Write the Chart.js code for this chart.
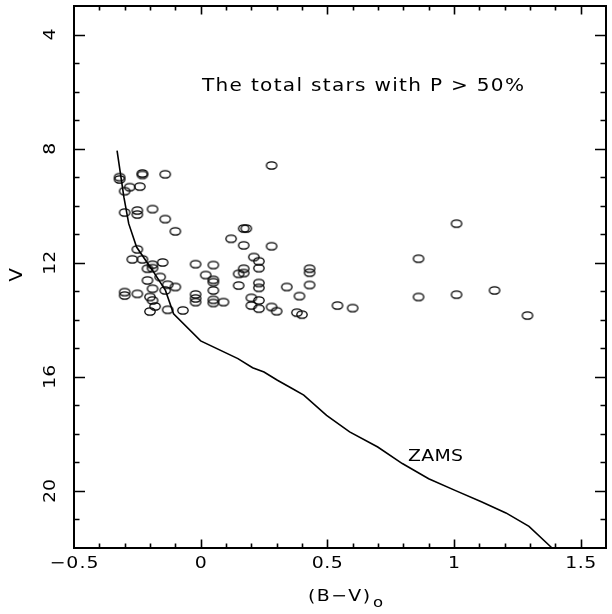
<!DOCTYPE html>
<html>
<head>
<meta charset="utf-8">
<script src="https://cdn.jsdelivr.net/npm/chart.js@4.4.1/dist/chart.umd.min.js"></script>
<style>
html,body{margin:0;padding:0;background:#fff;}
#wrap{width:612px;height:614px;}
</style>
</head>
<body>
<div id="wrap"><canvas id="c" width="612" height="614"></canvas></div>
<script>
// Stars with membership probability P > 50%
const starBV = [-0.32,-0.32,-0.23,-0.23,-0.14,-0.28,-0.30,-0.24,-0.30,-0.25,-0.25,-0.19,-0.14,-0.10,
  -0.25,-0.27,-0.23,-0.19,-0.19,-0.21,-0.15,-0.02,0.05,0.02,0.05,0.05,0.05,0.05,0.05,
  -0.21,-0.16,-0.19,-0.13,-0.10,-0.14,-0.30,-0.30,-0.25,-0.20,-0.19,-0.18,-0.20,-0.13,-0.07,
  -0.02,-0.02,-0.02,0.28,0.17,0.18,0.12,0.17,0.28,0.21,0.23,0.23,0.17,0.17,0.15,0.43,0.43,
  0.15,0.23,0.23,0.34,0.43,0.09,0.20,0.20,0.23,0.23,0.28,0.30,0.39,0.38,0.40,0.54,0.60,
  1.01,0.86,0.86,1.01,1.16,1.29];
const starV = [9.00,9.08,8.87,8.92,8.90,9.35,9.49,9.33,10.24,10.17,10.31,10.12,10.47,10.90,
  11.53,11.88,11.88,12.07,12.19,12.21,11.99,12.05,12.08,12.43,12.60,12.68,12.97,13.30,13.41,
  12.62,12.50,12.91,12.77,12.85,12.97,13.03,13.15,13.09,13.20,13.32,13.53,13.71,13.65,13.67,
  13.11,13.25,13.38,8.59,10.80,10.80,11.16,11.39,11.42,11.80,11.95,12.19,12.21,12.36,12.39,12.21,12.35,
  12.80,12.71,12.88,12.85,12.78,13.38,13.23,13.50,13.32,13.61,13.55,13.70,13.17,13.75,13.82,13.50,13.59,
  10.63,11.86,13.20,13.12,12.97,13.85];
// Zero-age main sequence
const zamsBV = [-0.33,-0.303,-0.284,-0.253,-0.19,-0.139,-0.107,0.0,0.147,0.205,0.25,0.303,0.361,
  0.407,0.497,0.588,0.699,0.796,0.90,1.004,1.108,1.205,1.296,1.387];
const zamsV = [8.07,9.70,10.63,11.45,12.27,12.97,13.79,14.74,15.36,15.68,15.83,16.12,16.41,
  16.64,17.35,17.93,18.46,19.04,19.57,19.98,20.38,20.77,21.24,22.0];
// Axes
const xMajorTicks = [-0.5, 0, 0.5, 1, 1.5];
const xTickLabels = ['\u22120.5', '0', '0.5', '1', '1.5'];
const yMajorTicks = [4, 8, 12, 16, 20];
const yTickLabels = ['4', '8', '12', '16', '20'];
const xRange = [-0.5, 1.6];
const yRange = [3, 22];
const titleText = 'The total stars with P > 50%';
const zamsLabel = 'ZAMS';

// ellipse marker
const mk = document.createElement('canvas');
mk.width = 14; mk.height = 11;
(function(){
  const g = mk.getContext('2d');
  g.strokeStyle = '#000'; g.lineWidth = 1.3;
  g.beginPath(); g.ellipse(7, 5.5, 5.2, 3.7, 0, 0, Math.PI*2); g.stroke();
})();

const FONT = '"DejaVu Sans", Verdana, sans-serif';
const SX = 1.18;
function spacedText(ctx, text, x, y, size, targetW, align) {
  ctx.save();
  ctx.font = size + 'px ' + FONT;
  ctx.letterSpacing = '0px';
  const w0 = ctx.measureText(text).width;
  const n = text.length;
  let ls = n > 1 ? (targetW / SX - w0) / (n - 1) : 0;
  if (ls < 0) ls = 0;
  ctx.letterSpacing = ls + 'px';
  ctx.textAlign = 'left';
  ctx.textBaseline = 'middle';
  const vis = (w0 + ls * (n - 1)) * SX;
  let x0 = x;
  if (align === 'center') x0 = x - vis / 2;
  else if (align === 'right') x0 = x - vis;
  ctx.translate(x0, y);
  ctx.scale(SX, 1);
  ctx.fillText(text, 0, 0);
  ctx.restore();
}

const framePlugin = {
  id: 'frame',
  afterDraw(chart) {
    const ctx = chart.ctx, a = chart.chartArea;
    const xs = chart.scales.x, ys = chart.scales.y;
    ctx.save();
    ctx.strokeStyle = '#000';
    ctx.fillStyle = '#000';
    ctx.lineWidth = 2;
    ctx.strokeRect(a.left, a.top, a.right - a.left, a.bottom - a.top);
    ctx.lineWidth = 1.6;
    ctx.beginPath();
    for (let i = -4; i < 16; i++) {
      const v = i / 10;
      const px = Math.round(xs.getPixelForValue(v)) + 0.5;
      const major = (i % 5 === 0);
      const L = major ? 8.5 : 4.5;
      ctx.moveTo(px, a.bottom); ctx.lineTo(px, a.bottom - L);
      ctx.moveTo(px, a.top); ctx.lineTo(px, a.top + L);
    }
    for (let v = 4; v < 22; v++) {
      const py = Math.round(ys.getPixelForValue(v)) + 0.5;
      const major = (v % 4 === 0);
      const L = major ? 11 : 5.5;
      ctx.moveTo(a.left, py); ctx.lineTo(a.left + L, py);
      ctx.moveTo(a.right, py); ctx.lineTo(a.right - L, py);
    }
    ctx.stroke();
    xMajorTicks.forEach((v, i) => {
      const px = xs.getPixelForValue(v);
      const t = xTickLabels[i];
      const w = t.length === 1 ? 10 : (t.length === 3 ? 31 : 49);
      spacedText(ctx, t, px, 564, 16, w, 'center');
    });
    yMajorTicks.forEach((v, i) => {
      const py = ys.getPixelForValue(v);
      const t = yTickLabels[i];
      ctx.save();
      ctx.translate(51, py);
      ctx.rotate(-Math.PI / 2);
      spacedText(ctx, t, 0, 0, 16, t.length === 1 ? 10 : 22, 'center');
      ctx.restore();
    });
    ctx.save();
    ctx.translate(18, 275);
    ctx.rotate(-Math.PI / 2);
    spacedText(ctx, 'V', 0, 0, 17, 13, 'center');
    ctx.restore();
    spacedText(ctx, '(B\u2212V)', 308, 597, 16, 62, 'left');
    spacedText(ctx, 'o', 373, 603, 14, 8, 'left');
    spacedText(ctx, titleText, 202, 87, 17, 322, 'left');
    spacedText(ctx, zamsLabel, 408, 457, 16, 55, 'left');
    ctx.restore();
  }
};

new Chart(document.getElementById('c'), {
  type: 'scatter',
  data: {
    datasets: [
      {
        label: 'Stars',
        data: starBV.map((x, i) => ({x: x, y: starV[i]})),
        pointStyle: mk,
        pointRadius: 5,
        showLine: false
      },
      {
        label: 'ZAMS',
        data: zamsBV.map((x, i) => ({x: x, y: zamsV[i]})),
        showLine: true,
        borderColor: '#000',
        borderWidth: 1.6,
        pointRadius: 0,
        tension: 0,
        fill: false
      }
    ]
  },
  options: {
    responsive: false,
    animation: false,
    devicePixelRatio: 1,
    layout: { padding: { left: 74, top: 6, right: 1, bottom: 66 } },
    clip: false,
    plugins: { legend: { display: false }, tooltip: { enabled: false } },
    scales: {
      x: { type: 'linear', min: xRange[0], max: xRange[1], display: false },
      y: { type: 'linear', min: yRange[0], max: yRange[1], reverse: true, display: false }
    }
  },
  plugins: [framePlugin]
});
</script>
</body>
</html>
